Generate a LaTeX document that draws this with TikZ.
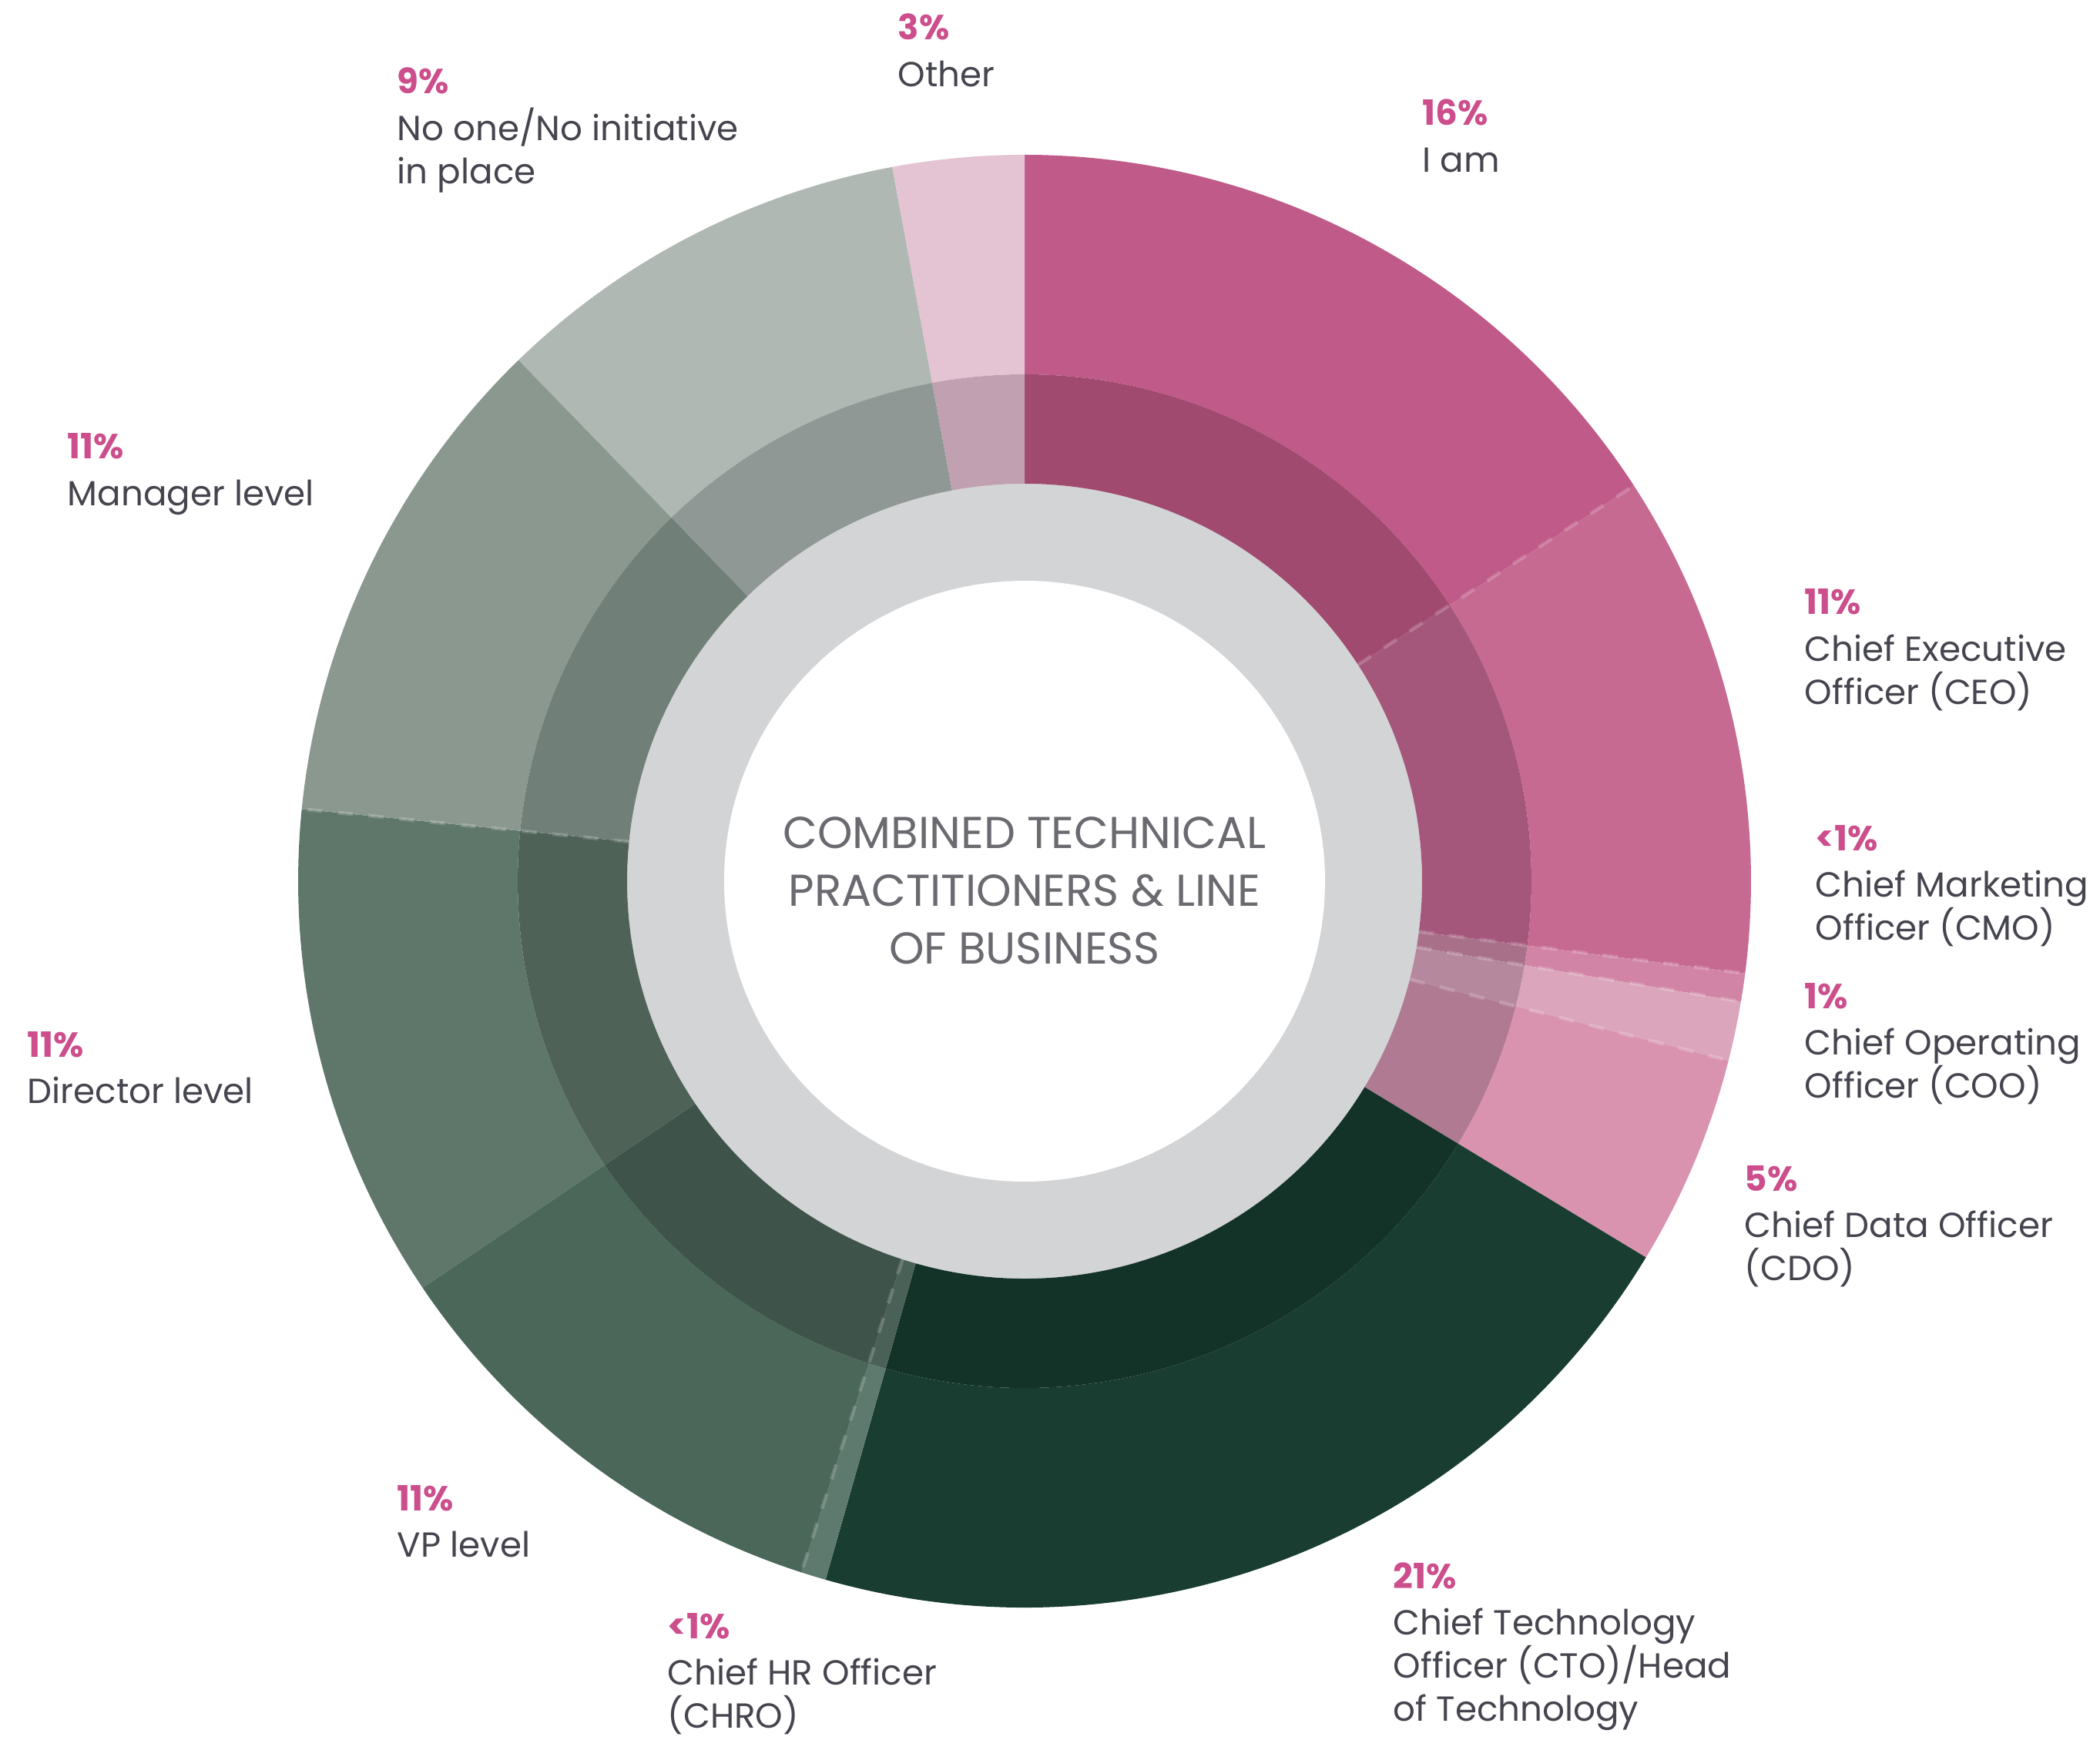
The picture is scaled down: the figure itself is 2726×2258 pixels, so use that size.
\documentclass[tikz,border=0pt]{standalone}
\usepackage{fontspec}
\setmainfont{Poppins}
\definecolor{iamO}{HTML}{C05A88}\definecolor{iamI}{HTML}{A14A70}
\definecolor{ceoO}{HTML}{C66A92}\definecolor{ceoI}{HTML}{A5577B}
\definecolor{cmoO}{HTML}{D184A5}\definecolor{cmoI}{HTML}{A97089}
\definecolor{cooO}{HTML}{DBA5BC}\definecolor{cooI}{HTML}{B5889D}
\definecolor{cdoO}{HTML}{D993AF}\definecolor{cdoI}{HTML}{B07A93}
\definecolor{ctoO}{HTML}{1A3D31}\definecolor{ctoI}{HTML}{133328}
\definecolor{chrO}{HTML}{5E7A6E}\definecolor{chrI}{HTML}{4A6158}
\definecolor{vpO}{HTML}{4A6759}\definecolor{vpI}{HTML}{3E534A}
\definecolor{dirO}{HTML}{5F776B}\definecolor{dirI}{HTML}{4E6258}
\definecolor{mgrO}{HTML}{8A988F}\definecolor{mgrI}{HTML}{717F79}
\definecolor{nonO}{HTML}{AFB8B3}\definecolor{nonI}{HTML}{8F9894}
\definecolor{othO}{HTML}{E4C3D2}\definecolor{othI}{HTML}{C0A0B1}
\definecolor{ringgray}{HTML}{D3D4D6}
\definecolor{pctcol}{HTML}{CC4E8C}
\definecolor{txtcol}{HTML}{45454F}
\definecolor{midcol}{HTML}{6A6A70}
\newcommand\ringseg[4]{%
  \fill[#3] (#1:943) arc[start angle=#1,end angle=#2,radius=943] -- (#2:658)
    arc[start angle=#2,end angle=#1,radius=658] -- cycle;
  \fill[#4] (#1:658) arc[start angle=#1,end angle=#2,radius=658] -- (#2:516)
    arc[start angle=#2,end angle=#1,radius=516] -- cycle;}
\newcommand\lline[1]{\hbox{#1}}
\newcommand\lab[2]{\vtop{\baselineskip=13.9pt\hbox{\bfseries\color{pctcol}#1}\vskip1.3pt #2}}
\tikzset{lbl/.style={inner sep=0pt,anchor=base west,text=txtcol,font=\fontsize{11.3}{13.9}\selectfont},
  sepline/.style={white,opacity=0.18,line width=1.2,dash pattern=on 5 off 5}}
\begin{document}
\begin{tikzpicture}[x=0.25pt,y=0.25pt]
\useasboundingbox (-1330,-1114) rectangle (1396,1144);
\fill[ringgray] (0,0) circle[radius=516];
\fill[white] (0,0) circle[radius=390];
\ringseg{90}{33}{iamO}{iamI}
\ringseg{33}{-7.3}{ceoO}{ceoI}
\ringseg{-7.3}{-9.55}{cmoO}{cmoI}
\ringseg{-9.55}{-14.3}{cooO}{cooI}
\ringseg{-14.3}{-31.2}{cdoO}{cdoI}
\ringseg{-31.2}{-105.9}{ctoO}{ctoI}
\ringseg{-105.9}{-107.9}{chrO}{chrI}
\ringseg{-107.9}{-145.95}{vpO}{vpI}
\ringseg{-145.95}{-185.7}{dirO}{dirI}
\ringseg{-185.7}{-225.85}{mgrO}{mgrI}
\ringseg{-225.85}{-259.5}{nonO}{nonI}
\ringseg{-259.5}{-270}{othO}{othI}
\foreach \a in {33,-7.3,-9.55,-14.3,-107.9,-185.7}
  \draw[sepline] (\a:516) -- (\a:943);
\node[align=center,text=midcol,font=\fontsize{14.5}{18.7}\selectfont] (mid) at (0,-12)
  {COMBINED TECHNICAL\\PRACTITIONERS \& LINE\\OF BUSINESS};
\node[lbl] (oth) at (-165,1092) {\lab{3\%}{\lline{Other}}};
\node[lbl] (non) at (-815,1022) {\lab{9\%}{\lline{No one/No initiative}\lline{in place}}};
\node[lbl] (iam) at (516,981) {\lab{16\%}{\lline{I am}}};
\node[lbl] (mgr) at (-1243,548) {\lab{11\%}{\lline{Manager level}}};
\node[lbl] (ceo) at (1012,346) {\lab{11\%}{\lline{Chief Executive}\lline{Officer (CEO)}}};
\node[lbl] (cmo) at (1026,40) {\lab{<1\%}{\lline{Chief Marketing}\lline{Officer (CMO)}}};
\node[lbl] (coo) at (1012,-165) {\lab{1\%}{\lline{Chief Operating}\lline{Officer (COO)}}};
\node[lbl] (cdo) at (934,-402) {\lab{5\%}{\lline{Chief Data Officer}\lline{(CDO)}}};
\node[lbl] (dir) at (-1295,-228) {\lab{11\%}{\lline{Director level}}};
\node[lbl] (vp) at (-815,-817) {\lab{11\%}{\lline{VP level}}};
\node[lbl] (chr) at (-464,-983) {\lab{<1\%}{\lline{Chief HR Officer}\lline{(CHRO)}}};
\node[lbl] (cto) at (478,-918) {\lab{21\%}{\lline{Chief Technology}\lline{Officer (CTO)/Head}\lline{of Technology}}};
\end{tikzpicture}
\end{document}
